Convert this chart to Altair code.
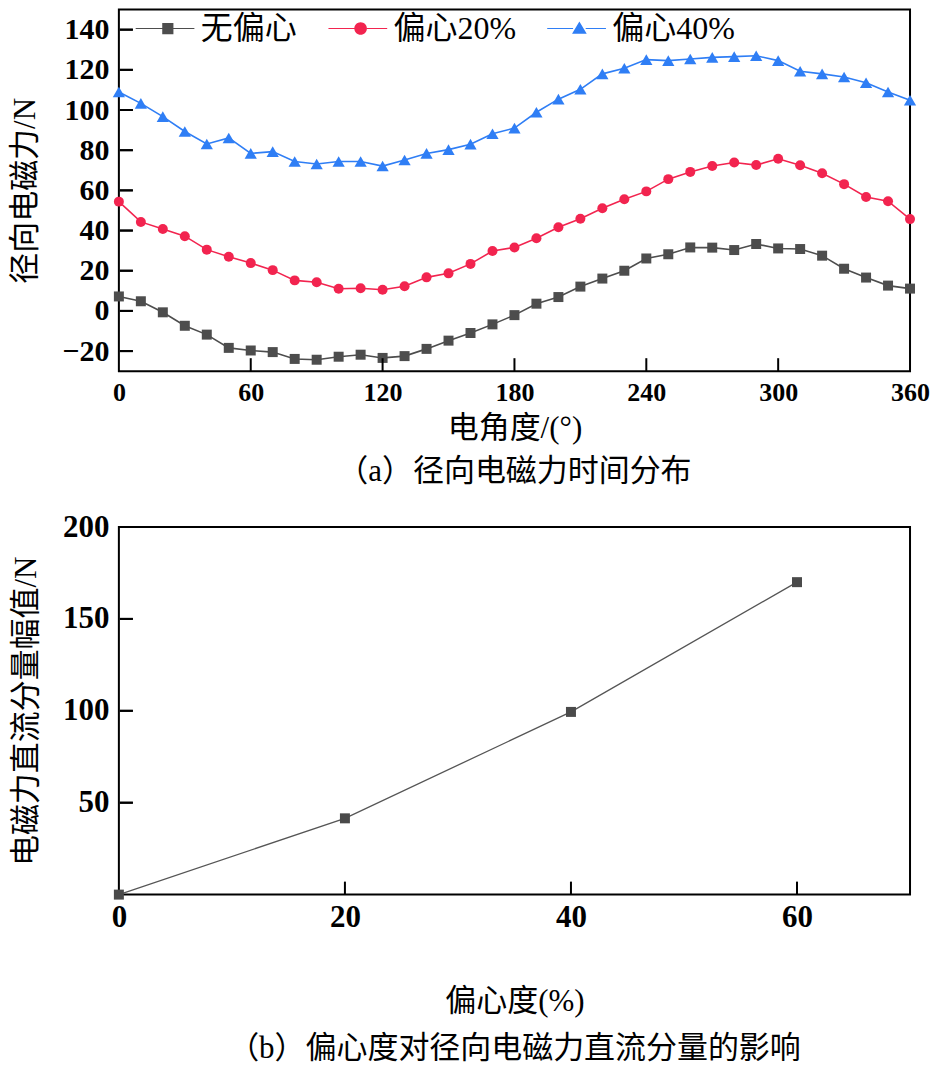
import altair as alt
import pandas as pd

# ---------------- data ----------------
angles = list(range(0, 361, 10))
series_names = ["无偏心", "偏心20%", "偏心40%"]
series_colors = ["#4d4d4d", "#f2244f", "#2f7ef5"]

no_ecc = [7.2, 4.8, -0.7, -7.4, -11.8, -18.4, -19.7, -20.5, -23.9, -24.3,
          -22.8, -21.8, -23.4, -22.5, -18.9, -14.8, -11.0, -6.7, -2.1, 3.6,
          6.9, 12.1, 16.1, 20.0, 26.1, 28.2, 31.6, 31.5, 30.3, 33.3,
          31.1, 30.8, 27.5, 21.0, 16.6, 12.6, 11.1]
ecc20 = [54.4, 44.3, 40.8, 37.2, 30.5, 27.0, 23.8, 20.3, 15.2, 14.3,
         11.0, 11.3, 10.5, 12.3, 16.7, 18.7, 23.4, 29.8, 31.6, 36.2,
         41.6, 45.9, 51.1, 55.6, 59.5, 65.6, 69.2, 72.1, 73.9, 72.6,
         75.7, 72.5, 68.5, 63.1, 56.7, 54.6, 45.7]
ecc40 = [109.0, 103.3, 96.7, 89.3, 83.1, 86.1, 78.4, 79.3, 74.4, 73.1,
         74.4, 74.4, 72.1, 75.1, 78.4, 80.3, 83.0, 88.2, 91.0, 98.9,
         105.4, 110.3, 118.0, 120.8, 125.1, 124.6, 125.4, 126.2, 126.6, 127.0,
         124.6, 119.3, 118.0, 116.4, 113.6, 109.0, 104.9]

top_x_ticks = [0, 60, 120, 180, 240, 300, 360]
top_y_ticks = [-20, 0, 20, 40, 60, 80, 100, 120, 140]

ecc_levels = [0, 20, 40, 60]
dc_amplitude = [0.0, 41.5, 99.4, 170.0]
bot_x_ticks = [0, 20, 40, 60]
bot_y_ticks = [50, 100, 150, 200]

# ---------------- styling ----------------
FONT = "Liberation Serif, Noto Sans CJK SC"
TICK_LEN = 13
TICK_COLOR = "black"
W = 792
H_TOP = 362
H_BOT = 368

df_top = pd.DataFrame({
    "angle": angles * 3,
    "force": no_ecc + ecc20 + ecc40,
    "series": [series_names[0]] * len(angles) + [series_names[1]] * len(angles)
              + [series_names[2]] * len(angles),
})
df_bot = pd.DataFrame({"ecc": ecc_levels, "dc": dc_amplitude})

x_top = alt.Scale(domain=[0, 360], nice=False, zero=False)
y_top = alt.Scale(domain=[-30, 150], nice=False, zero=False)
color_scale = alt.Scale(domain=series_names, range=series_colors)

# legend symbols: line segment with marker in the middle
legend_paths = [
    "M-4.6,-0.08H-0.8V0.08H-4.6Z M0.8,-0.08H3.8V0.08H0.8Z M-0.8,-0.8H0.8V0.8H-0.8Z",
    "M-4.6,-0.08H-0.9V0.08H-4.6Z M0.9,-0.08H3.8V0.08H0.9Z M-0.9,0A0.9,0.9 0 1,1 0.9,0A0.9,0.9 0 1,1 -0.9,0Z",
    "M-4.6,-0.08H-0.9V0.08H-4.6Z M0.9,-0.08H3.8V0.08H0.9Z M0,-1.0L1.05,0.75H-1.05Z",
]


def label_axis(values, title, fontsize, orient, lpad, tpad):
    return alt.Axis(values=values, ticks=False, tickSize=0, domain=False, grid=False,
                    labels=True, labelFont=FONT, labelFontSize=fontsize,
                    labelFontWeight="bold", labelColor="black", labelFlush=False,
                    labelOverlap=False, labelPadding=lpad, format="d",
                    title=title, titleFont=FONT, titleFontSize=31,
                    titleFontWeight="normal", titleColor="black",
                    titlePadding=tpad, orient=orient)


def inner_ticks_x(values, scale, height):
    return alt.Chart(pd.DataFrame({"t": values})).mark_rule(
        color=TICK_COLOR, strokeWidth=2).encode(
        x=alt.X("t:Q", scale=scale, axis=None),
        y=alt.value(height), y2=alt.value(height - TICK_LEN))


def inner_ticks_y(values, scale):
    # inward horizontal ticks on the left edge: a rule, plus a short stroked
    # horizontal symbol at the same place (whichever renders, they coincide)
    d = pd.DataFrame({"t": values})
    a = alt.Chart(d).mark_rule(color=TICK_COLOR, strokeWidth=2).encode(
        y=alt.Y("t:Q", scale=scale, axis=None),
        x=alt.value(1), x2=alt.value(TICK_LEN + 1))
    b = alt.Chart(d).mark_point(shape="M-1,0H1", filled=False, color=TICK_COLOR,
                                strokeWidth=2, size=TICK_LEN * TICK_LEN,
                                opacity=1).encode(
        y=alt.Y("t:Q", scale=scale, axis=None),
        x=alt.value(TICK_LEN / 2 + 1))
    return [a, b]


legend_def = alt.Legend(orient="none", legendX=33, legendY=3, direction="horizontal",
                        title=None, labelFont=FONT, labelFontSize=32,
                        labelColor="black", symbolSize=196, symbolStrokeWidth=0,
                        symbolOpacity=1, labelOffset=17, columnPadding=30, padding=0)

base_top = alt.Chart(df_top)

lines = base_top.mark_line(strokeWidth=1.6).encode(
    x=alt.X("angle:Q", scale=x_top,
            axis=label_axis(top_x_ticks, "电角度/(°)", 26, "bottom", 8, 8)),
    y=alt.Y("force:Q", scale=y_top,
            axis=label_axis(top_y_ticks, "径向电磁力/N", 30, "left", 10, 20)),
    color=alt.Color("series:N", scale=color_scale, legend=None),
)

marker_shapes = ["square", "circle", "triangle-up"]
marker_sizes = [100, 100, 150]
point_layers = []
for name, shp, sz in zip(series_names, marker_shapes, marker_sizes):
    point_layers.append(
        base_top.transform_filter(alt.datum.series == name)
        .mark_point(shape=shp, filled=True, size=sz, opacity=1)
        .encode(
            x=alt.X("angle:Q", scale=x_top, axis=None),
            y=alt.Y("force:Q", scale=y_top, axis=None),
            color=alt.Color("series:N", scale=color_scale, legend=None),
        )
    )

legend_layer = base_top.transform_filter("false").mark_point(filled=True, opacity=1).encode(
    x=alt.X("angle:Q", scale=x_top, axis=None),
    y=alt.Y("force:Q", scale=y_top, axis=None),
    color=alt.Color("series:N", scale=color_scale, legend=legend_def),
    shape=alt.Shape("series:N", scale=alt.Scale(domain=series_names, range=legend_paths),
                    legend=legend_def),
)

top = alt.layer(
    lines, *point_layers,
    inner_ticks_x(top_x_ticks[1:-1], x_top, H_TOP),
    *inner_ticks_y(top_y_ticks, y_top),
    legend_layer,
).resolve_scale(
    x="independent", y="independent", color="independent", shape="independent"
).resolve_axis(
    x="independent", y="independent"
).properties(
    width=W, height=H_TOP,
    title=alt.TitleParams("（a）径向电磁力时间分布", orient="bottom", font=FONT,
                          fontSize=31, fontWeight="normal", color="black",
                          anchor="middle", frame="group", offset=14),
)

# ---------------- bottom chart ----------------
x_bot = alt.Scale(domain=[0, 70], nice=False, zero=False)
y_bot = alt.Scale(domain=[0, 200], nice=False, zero=False)
base_bot = alt.Chart(df_bot)

bot_line = base_bot.mark_line(color="#555555", strokeWidth=1.3).encode(
    x=alt.X("ecc:Q", scale=x_bot,
            axis=label_axis(bot_x_ticks, "偏心度(%)", 31, "bottom", 8, 54)),
    y=alt.Y("dc:Q", scale=y_bot,
            axis=label_axis(bot_y_ticks, "电磁力直流分量幅值/N", 31, "left", 10, 20)),
)
bot_pts = base_bot.mark_point(shape="square", filled=True, size=100, color="#4a4a4a",
                              opacity=1).encode(
    x=alt.X("ecc:Q", scale=x_bot, axis=None),
    y=alt.Y("dc:Q", scale=y_bot, axis=None),
)

bottom = alt.layer(
    bot_line, bot_pts,
    inner_ticks_x(bot_x_ticks[1:], x_bot, H_BOT),
    *inner_ticks_y(bot_y_ticks[:-1], y_bot),
).resolve_scale(
    x="independent", y="independent"
).resolve_axis(
    x="independent", y="independent"
).properties(
    width=W, height=H_BOT,
    title=alt.TitleParams("（b）偏心度对径向电磁力直流分量的影响", orient="bottom",
                          font=FONT, fontSize=31, fontWeight="normal", color="black",
                          anchor="middle", frame="group", offset=18),
)

chart = alt.vconcat(top, bottom, spacing=22).properties(
    padding=0
).configure_view(stroke="black", strokeWidth=2)

chart.save("out.html", embed_options={"renderer": "svg", "actions": False})
